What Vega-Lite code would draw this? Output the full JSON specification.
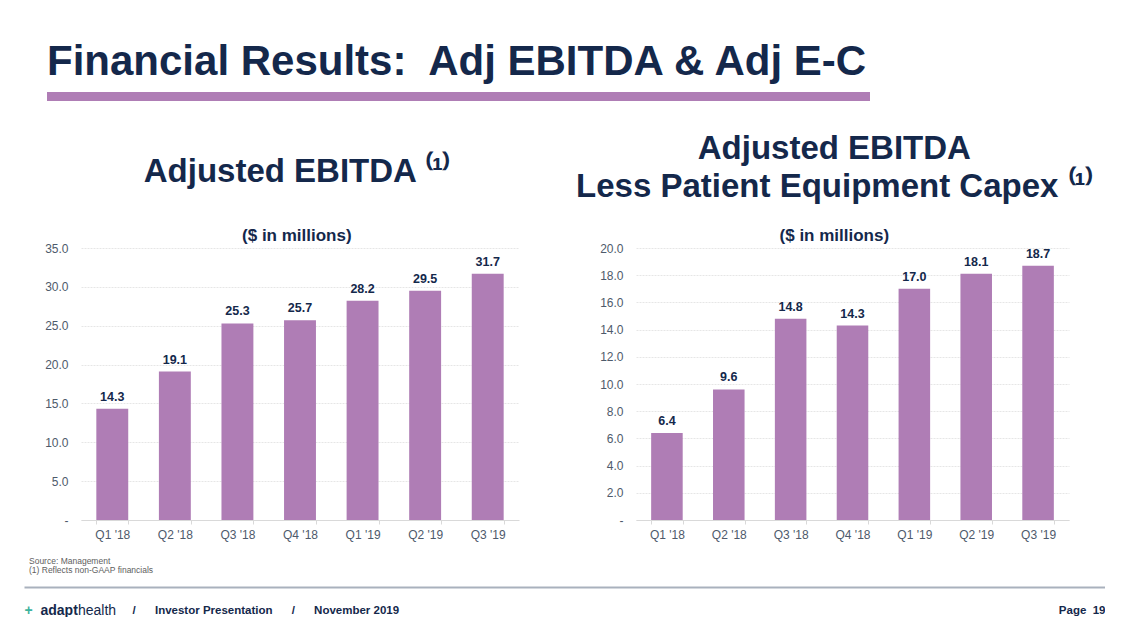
{
  "$schema": "https://vega.github.io/schema/vega-lite/v6.json",
  "background": "white",
  "padding": {"left": 24, "top": 41, "right": 0, "bottom": 0},
  "config": {
    "font": "Liberation Sans",
    "view": {"stroke": null},
    "axis": {"labelFont": "Liberation Sans", "titleFont": "Liberation Sans"}
  },
  "spacing": 32,
  "vconcat": [
    {
      "spacing": 22,
      "hconcat": [
        {"width": 1, "height": 9, "data": {"values": [{}]}, "mark": {"type": "point", "opacity": 0, "size": 0}, "encoding": {}},
        {
          "width": 823,
          "height": 9,
          "view": {"fill": "#AF7DB5", "stroke": null},
          "title": {"text": "Financial Results:\u00a0 Adj EBITDA & Adj E-C", "anchor": "start", "font": "Liberation Sans", "fontSize": 42, "fontWeight": "bold", "color": "#14284B", "offset": 8},
          "data": {"values": [{}]},
          "mark": {"type": "point", "opacity": 0, "size": 0},
          "encoding": {}
        }
      ]
    },
    {
      "spacing": 16,
      "vconcat": [
        {
          "spacing": 19,
          "hconcat": [
            {"width": 1, "height": 1, "data": {"values": [{}]}, "mark": {"type": "point", "opacity": 0, "size": 0}, "encoding": {}},
            {
              "spacing": 117,
              "bounds": "flush",
              "hconcat": [
                {
                  "width": 438,
                  "height": 272,
                  "title": {"text": "Adjusted EBITDA \u207d\u00b9\u207e", "subtitle": "($ in millions)", "anchor": "middle", "frame": "bounds", "dx": 15, "font": "Liberation Sans", "fontSize": 33, "fontWeight": "bold", "color": "#14284B", "subtitleFont": "Liberation Sans", "subtitleFontSize": 17, "subtitleFontWeight": "bold", "subtitleColor": "#14284B", "subtitlePadding": 39, "offset": -2},
                  "data": {"values": [
                    {"quarter": "Q1 '18", "value": 14.3},
                    {"quarter": "Q2 '18", "value": 19.1},
                    {"quarter": "Q3 '18", "value": 25.3},
                    {"quarter": "Q4 '18", "value": 25.7},
                    {"quarter": "Q1 '19", "value": 28.2},
                    {"quarter": "Q2 '19", "value": 29.5},
                    {"quarter": "Q3 '19", "value": 31.7}
                  ]},
                  "encoding": {
                    "x": {"field": "quarter", "type": "nominal", "sort": null, "scale": {"paddingInner": 0.49, "paddingOuter": 0.245},
                      "axis": {"title": null, "labelAngle": 0, "labelColor": "#4E5A6B", "labelFontSize": 12, "domainColor": "#D9D9D9", "tickColor": "#D9D9D9", "tickBand": "extent", "tickSize": 4, "labelPadding": 5}},
                    "y": {"field": "value", "type": "quantitative", "scale": {"domain": [0, 35]},
                      "axis": {"title": null, "values": [0, 5, 10, 15, 20, 25, 30, 35], "labelExpr": "datum.value == 0 ? '-' : format(datum.value, '.1f')", "domain": false, "ticks": false, "labelPadding": 13, "gridColor": "#E6E6E6", "gridDash": [2, 1], "labelColor": "#4E5A6B", "labelFontSize": 12}}
                  },
                  "layer": [
                    {"mark": {"type": "bar", "color": "#AF7DB5"}},
                    {"mark": {"type": "text", "dy": -12, "fontWeight": "bold", "fontSize": 12.5, "color": "#14284B"}, "encoding": {"text": {"field": "value", "type": "quantitative", "format": ".1f"}}}
                  ]
                },
                {
                  "width": 433,
                  "height": 272,
                  "title": {"text": ["Adjusted EBITDA", "Less Patient Equipment Capex \u207d\u00b9\u207e"], "lineHeight": 38, "subtitle": "($ in millions)", "anchor": "middle", "frame": "bounds", "dx": 0, "font": "Liberation Sans", "fontSize": 33, "fontWeight": "bold", "color": "#14284B", "subtitleFont": "Liberation Sans", "subtitleFontSize": 17, "subtitleFontWeight": "bold", "subtitleColor": "#14284B", "subtitlePadding": 24, "offset": -2},
                  "data": {"values": [
                    {"quarter": "Q1 '18", "value": 6.4},
                    {"quarter": "Q2 '18", "value": 9.6},
                    {"quarter": "Q3 '18", "value": 14.8},
                    {"quarter": "Q4 '18", "value": 14.3},
                    {"quarter": "Q1 '19", "value": 17.0},
                    {"quarter": "Q2 '19", "value": 18.1},
                    {"quarter": "Q3 '19", "value": 18.7}
                  ]},
                  "encoding": {
                    "x": {"field": "quarter", "type": "nominal", "sort": null, "scale": {"paddingInner": 0.49, "paddingOuter": 0.245},
                      "axis": {"title": null, "labelAngle": 0, "labelColor": "#4E5A6B", "labelFontSize": 12, "domainColor": "#D9D9D9", "tickColor": "#D9D9D9", "tickBand": "extent", "tickSize": 4, "labelPadding": 5}},
                    "y": {"field": "value", "type": "quantitative", "scale": {"domain": [0, 20]},
                      "axis": {"title": null, "values": [0, 2, 4, 6, 8, 10, 12, 14, 16, 18, 20], "labelExpr": "datum.value == 0 ? '-' : format(datum.value, '.1f')", "domain": false, "ticks": false, "labelPadding": 13, "gridColor": "#E6E6E6", "gridDash": [2, 1], "labelColor": "#4E5A6B", "labelFontSize": 12}}
                  },
                  "layer": [
                    {"mark": {"type": "bar", "color": "#AF7DB5"}},
                    {"mark": {"type": "text", "dy": -12, "fontWeight": "bold", "fontSize": 12.5, "color": "#14284B"}, "encoding": {"text": {"field": "value", "type": "quantitative", "format": ".1f"}}}
                  ]
                }
              ]
            }
          ]
        },
        {
          "width": 1081,
          "height": 1,
          "title": {"text": ["Source: Management", "(1) Reflects non-GAAP financials"], "anchor": "start", "font": "Liberation Sans", "fontSize": 8.5, "fontWeight": "normal", "color": "#606060", "dx": 5, "lineHeight": 9, "offset": 12},
          "data": {"values": [{}]},
          "mark": {"type": "point", "opacity": 0, "size": 0},
          "encoding": {
            "x": {"datum": 0.5, "type": "quantitative", "scale": {"domain": [0, 1]},
              "axis": {"title": null, "values": [0, 0.0148, 0.0495, 0.1, 1], "grid": false, "ticks": false, "domain": true, "domainColor": "#A9B1BD", "domainWidth": 2,
                "labelExpr": "datum.value == 0 ? '+' : datum.value < 0.03 ? 'adapt' : datum.value < 0.07 ? 'health' : datum.value < 0.5 ? '/\u00a0\u00a0\u00a0\u00a0\u00a0 Investor Presentation \u00a0\u00a0\u00a0\u00a0\u00a0/\u00a0\u00a0\u00a0\u00a0\u00a0 November 2019' : 'Page\u00a0 19'",
                "labelAlign": {"condition": {"test": "datum.value == 1", "value": "right"}, "value": "left"},
                "labelFontSize": {"condition": {"test": "datum.value < 0.07", "value": 14}, "value": 11.5},
                "labelFontWeight": {"condition": {"test": "datum.value > 0.03 && datum.value < 0.07", "value": "normal"}, "value": "bold"},
                "labelColor": {"condition": {"test": "datum.value == 0", "value": "#3DB39E"}, "value": "#14284B"},
                "labelBaseline": "middle", "labelPadding": 23, "labelLimit": 0, "labelOverlap": false, "labelBound": false, "labelFlush": false}}
          }
        }
      ]
    }
  ]
}
